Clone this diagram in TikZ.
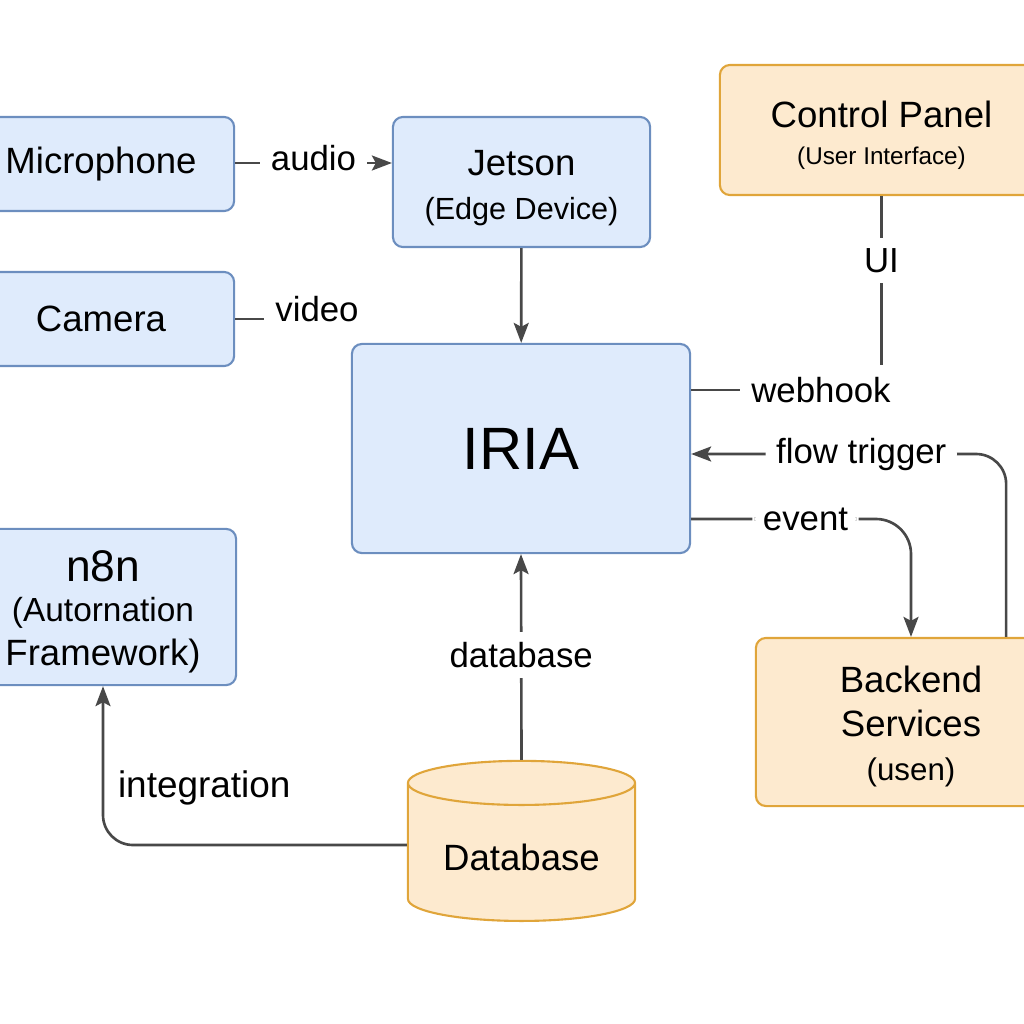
\documentclass[tikz,border=0pt]{standalone}
\usepackage{fontspec}
\setmainfont{Liberation Sans}
\usetikzlibrary{arrows.meta,shapes.geometric,calc}
\definecolor{bluefill}{RGB}{223,235,252}
\definecolor{blueline}{RGB}{108,142,191}
\definecolor{orangefill}{RGB}{253,234,207}
\definecolor{orangeline}{RGB}{224,165,58}
\definecolor{linkgray}{RGB}{72,72,72}
\begin{document}
\begin{tikzpicture}[x=0.01cm, y=-0.01cm,
    box/.style={draw=blueline, fill=bluefill, rounded corners=0.1cm, line width=0.6pt,
      align=center, font=\fontsize{10.4}{12.5}\selectfont},
    obox/.style={box, draw=orangeline, fill=orangefill},
    link/.style={draw=linkgray, line width=0.75pt},
    arr/.style={link, -{Stealth[length=0.2cm,width=0.15cm,inset=0.04cm]}},
    lbl/.style={fill=white, inner sep=3pt, text=black, font=\fontsize{9.9}{12}\selectfont}]
  \clip (0,0) rectangle (1024,1024);

  % Nodi
  \node[box, minimum width=2.66cm, minimum height=0.94cm] (mic) at (101,164) {Microphone};
  \node[box, minimum width=2.66cm, minimum height=0.94cm] (cam) at (101,319) {Camera};
  \node[box, minimum width=2.66cm, minimum height=1.54cm] (n8n) at (103,607)
    {\rule{0pt}{11.6pt}{\fontsize{12.6}{14}\selectfont n8n}\\[-1pt] \fontsize{9.5}{11.5}\selectfont (Autornation\\Framework)};
  \node[box, minimum width=2.57cm, minimum height=1.30cm] (jetson) at (521.5,182)
    {\rule{0pt}{10.8pt}Jetson\\ \fontsize{8.7}{10}\selectfont (Edge Device)};
  \node[box, minimum width=3.38cm, minimum height=2.09cm, font=\fontsize{17}{20}\selectfont] (iria) at (521,448.5) {IRIA};
  \node[obox, minimum width=3.23cm, minimum height=1.30cm] (cp) at (881.5,130)
    {\rule{0pt}{10.6pt}Control Panel\\[-2pt] \fontsize{6.9}{8}\selectfont (User Interface)};
  \node[obox, minimum width=3.10cm, minimum height=1.68cm] (bes) at (911,722)
    {\rule{0pt}{9.9pt}Backend\\Services\\ \fontsize{8.9}{10}\selectfont (usen)};
  \node[cylinder, shape border rotate=90, aspect=0.245, draw=orangeline, fill=orangefill, line width=0.6pt,
    minimum width=2.27cm, minimum height=1.60cm, anchor=south, font=\fontsize{10.4}{12.5}\selectfont] (db) at (521.5,922) {Database};
  \node[lbl] (video) at (317,309) {video};
  \node[lbl] (webhook) at (821,390) {webhook};

  % Archi
  \draw[arr] (mic.east |- 0,163) -- node[lbl, yshift=0.05cm] {audio} (jetson.west |- 0,163);
  \draw[link] (cam.east) -- (cam.east -| video.west);
  \draw[arr] (jetson) -- (iria);
  \draw[link] (cp.south) -- node[lbl, pos=0.38] {UI} (cp.south |- 0,365);
  \draw[link] (iria.east |- webhook) -- (webhook.west);
  \draw[arr, rounded corners=0.3cm] ($(bes.north east)+(-61,0)$) |- node[lbl, pos=0.73] {flow trigger} (iria.east |- 0,454);
  \draw[arr, rounded corners=0.35cm] (iria.east |- 0,519) -| node[lbl, pos=0.26] {event} (bes.north);
  \draw[arr] (db.north) -- node[lbl, pos=0.51] {database} (iria.south);
  \draw[arr, rounded corners=0.3cm] (db.west |- 0,845) -| node[pos=0.68, right=0.02cm, font=\fontsize{10.5}{12}\selectfont] {integration} (n8n.south);
\end{tikzpicture}
\end{document}
